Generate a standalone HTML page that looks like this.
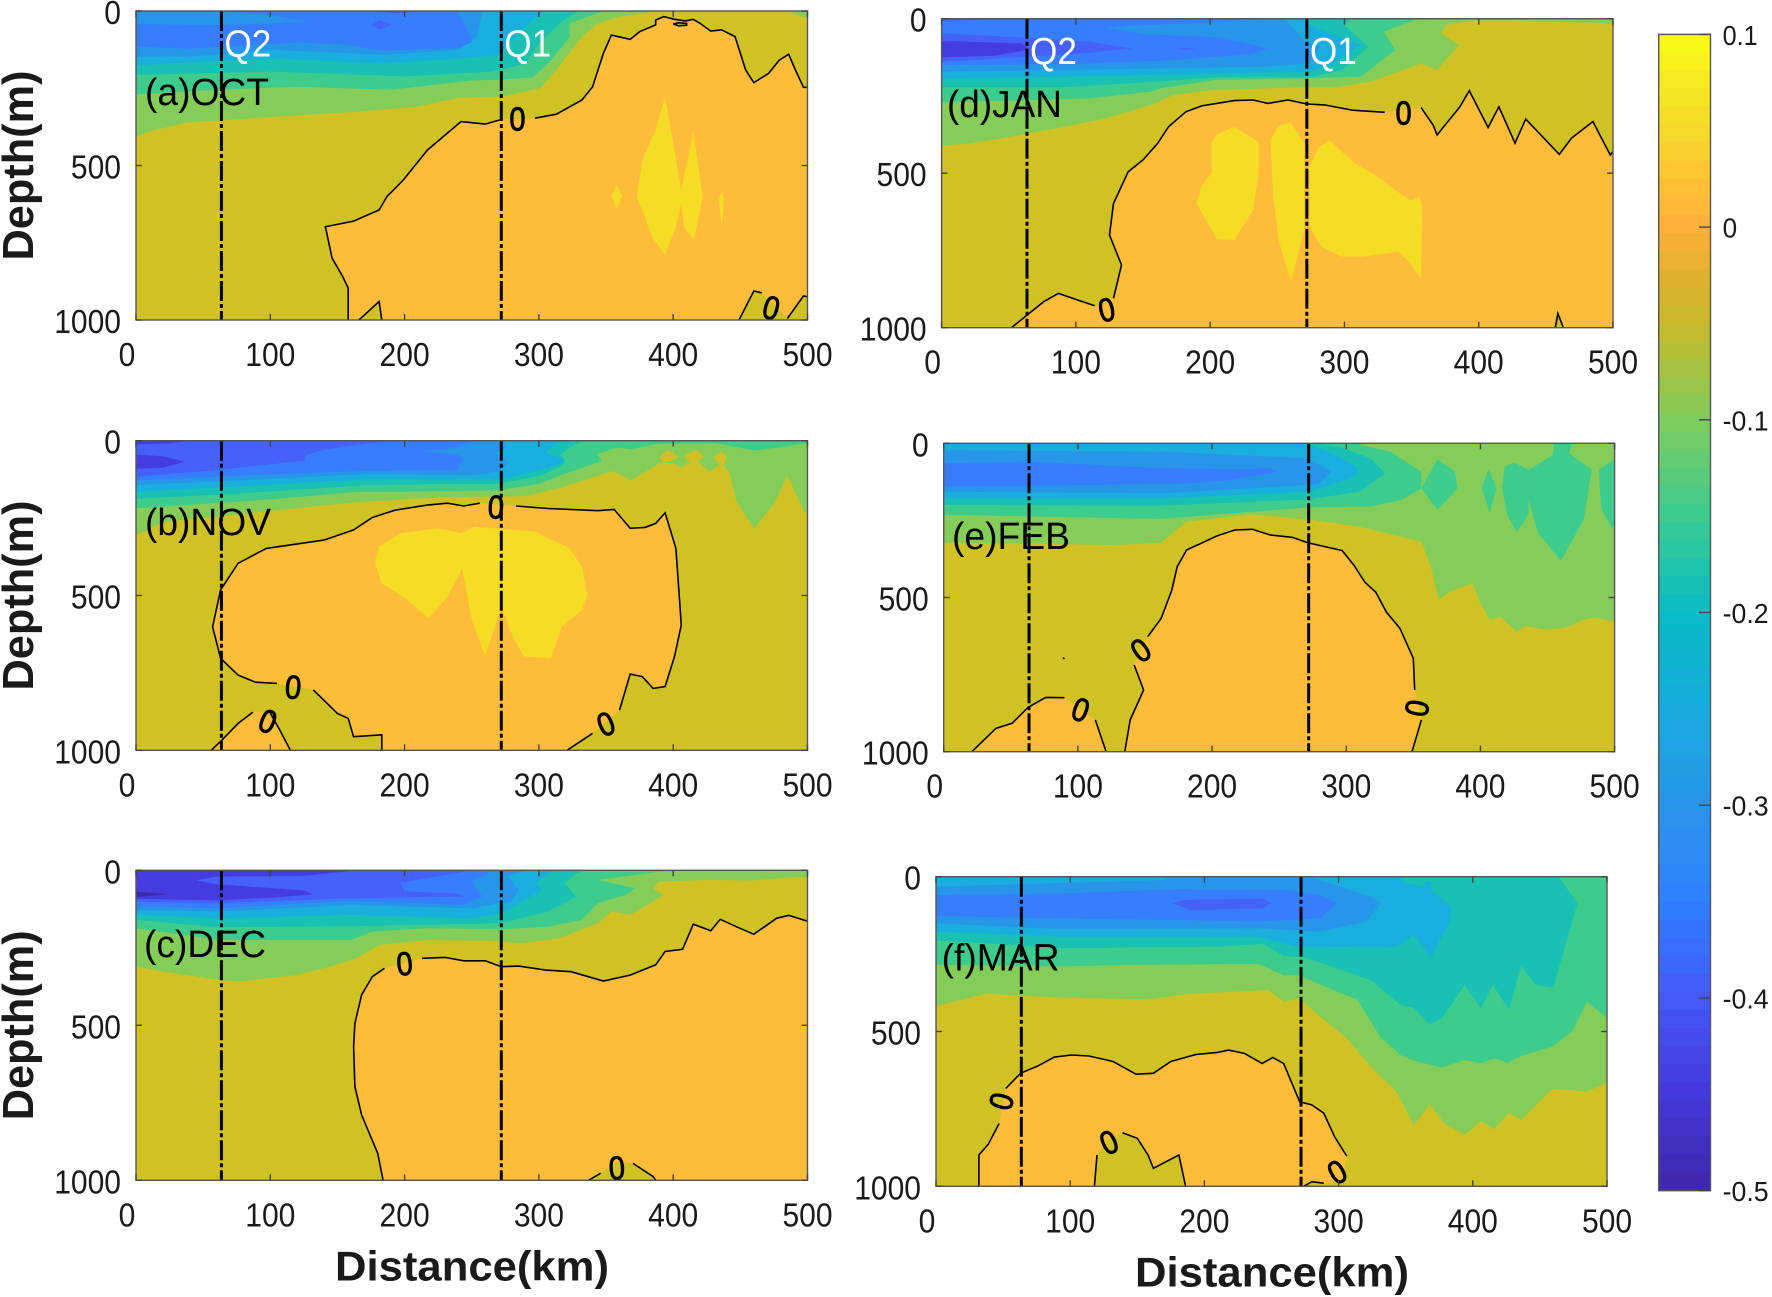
<!DOCTYPE html>
<html>
<head>
<meta charset="utf-8">
<title>Depth-distance sections</title>
<style>
html,body{margin:0;padding:0;background:#fff;}
svg{display:block;}
text{font-family:"Liberation Sans",sans-serif;fill:#1a1a1a;}
</style>
</head>
<body>
<svg id="chart" xmlns="http://www.w3.org/2000/svg" width="1772" height="1297" viewBox="0 0 1772 1297"></svg>
<script>
// Axis values
const xTicks = [0,100,200,300,400,500];
const yTicks = [0,500,1000];
const cbarTicks = [0.1,0,-0.1,-0.2,-0.3,-0.4,-0.5];
const stationKm = [63.6,272];
const bandColors = ['#3a2aa5','#453ce0','#4660fa','#377dff','#2896e8','#1aaede','#19c0b4','#3ecc8d','#84cd59','#d0c125','#fdbd3b','#f5dc25'];
const cbarStops = [[0.1,'#f9fb15'],[0.05,'#f5d92a'],[0.02,'#ffbe35'],[0,'#ffb03a'],[-0.03,'#dcb12a'],[-0.05,'#c9b92b'],[-0.1,'#7fcc5c'],[-0.15,'#3ccb8f'],[-0.2,'#08bcc6'],[-0.25,'#17abdd'],[-0.3,'#2a94e8'],[-0.35,'#2f80ff'],[-0.4,'#4458f8'],[-0.45,'#4438dc'],[-0.5,'#3e26a8']];

// OCT: [km, depth]; null = pen up for the contour line
const octWarm = [
 [0.025,[[158,1000],[158,897],[154,860],[146,800],[141,698],[162,680],[181,644],[187,600],[199,547],[217,450],[242,358],[260,366],[272,351],null,[297,347],[313,334],[332,288],[340,245],[348,137],[354,78],[368,92],[375,67],[387,45],[387,29],[393,18],[401,27],[409,32],[415,27],[420,40],[428,65],[436,61],[446,83],[454,191],[460,232],[471,202],[479,159],[486,140],[491,191],[497,247],[500,247],null,[500,1000]]],
 [-0.025,[[449,1000],[460,906],[466,912],null,[485,995],[497,922],[500,925],null,[500,1000]]],
 [-0.025,[[166,1000],[181,940],[183,1000]]],
 [-0.025,[[400,42],[404,38],[410,40],[410,46],[404,48],[400,42]]]
];
const octPeak = [
 [[394,277],[406,579],[415,390],[422,601],[417,709],[415,739],[408,698],[406,622],[402,698],[394,790],[385,736],[373,601],[377,482],[387,385]],
 [[358,563],[362,600],[358,642],[354,600]],
 [[436,585],[438,610],[436,698],[434,610]]
];
const octCold = [
 [-0.075,[[0,409],[9,390],[38,361],[103,342],[164,326],[209,310],[240,281],[272,277],[301,250],[315,180],[332,83],[344,40],[360,18],[389,0],[0,0]]],
 [-0.075,[[485,0],[500,0],[500,25]]],
 [-0.125,[[0,270],[60,255],[120,245],[190,255],[250,225],[272,222],[295,215],[307,170],[323,85],[323,40],[345,5],[350,0],[0,0]]],
 [-0.175,[[0,207],[100,196],[200,212],[265,196],[272,190],[290,170],[300,105],[318,30],[330,0],[0,0]]],
 [-0.225,[[0,175],[100,153],[180,170],[230,158],[270,142],[280,94],[295,30],[305,0],[0,0]]],
 [-0.275,[[0,148],[40,148],[100,126],[185,142],[240,126],[254,83],[258,0],[0,0]]],
 [-0.325,[[0,115],[40,122],[80,112],[120,102],[155,108],[185,128],[240,120],[250,100],[245,40],[240,10],[240,0],[65,0],[100,14],[127,35],[60,46],[0,42]]],
 [-0.375,[[182,30],[190,45],[182,60],[175,45]]],
 [-0.375,[[177,0],[215,0],[195,8]]]
];
const octLabels = [[284,350,0],[473,962,15]];

// NOV
const novWarm = [
 [0.025,[[56,1000],[64,967],[76,913],[87,877],null,[100,880],[107,934],[115,1000]]],
 [0.025,[[183,1000],[183,950],[162,956],[158,897],[150,881],[132,805],null,[105,784],[89,780],[76,757],[63,703],[57,601],[63,482],[76,396],[97,348],[140,321],[162,288],[176,248],[193,224],[217,208],[232,202],[244,211],[256,202],null,[283,211],[307,219],[344,226],[356,222],[368,283],[379,280],[387,267],[394,233],[402,348],[406,595],[401,697],[394,794],[385,800],[377,762],[368,754],[360,870],null,[340,945],[321,1000]]]
];
const novPeak = [
 [[197,299],[225,283],[242,299],[252,278],[266,283],[297,294],[323,348],[332,407],[336,498],[332,547],[317,601],[309,703],[289,697],[281,638],[272,536],[260,697],[250,579],[243,412],[232,504],[218,574],[199,504],[183,461],[178,396],[181,342]]
];
const novCold = [
 [-0.075,[[0,305],[21,262],[82,235],[160,200],[225,183],[275,180],[290,179],[316,152],[355,98],[369,128],[390,71],[400,72],[406,87],[414,66],[418,68],[427,100],[436,74],[442,103],[447,195],[460,284],[475,205],[485,111],[498,234],[500,225],[500,0],[0,0]]],
 [-0.025,[[390,52],[395,33],[399,35],[404,52],[398,68],[392,72]]],
 [-0.025,[[408,50],[415,32],[418,33],[423,50],[418,70],[412,70]]],
 [-0.025,[[430,52],[436,35],[440,52],[438,78],[434,78]]],
 [-0.125,[[0,218],[100,190],[165,165],[200,165],[270,160],[300,140],[316,112],[347,65],[343,44],[358,22],[368,28],[388,10],[432,8],[461,32],[498,9],[500,9],[500,0],[0,0]]],
 [-0.175,[[0,188],[80,170],[165,145],[225,140],[268,140],[300,115],[316,85],[320,65],[316,45],[322,25],[332,0],[0,0]]],
 [-0.225,[[0,165],[80,147],[170,125],[272,125],[295,100],[316,75],[319,65],[316,55],[305,40],[310,20],[318,0],[0,0]]],
 [-0.275,[[0,143],[80,128],[170,108],[250,112],[270,100],[278,70],[268,40],[275,25],[275,0],[0,0]]],
 [-0.325,[[0,129],[80,112],[170,98],[240,95],[243,60],[240,45],[213,35],[240,22],[245,10],[255,0],[0,0]]],
 [-0.375,[[0,116],[60,95],[125,65],[127,45],[140,30],[170,10],[190,0],[0,0]]],
 [-0.425,[[0,90],[20,88],[36,68],[20,50],[0,45]]],
 [-0.425,[[0,0],[40,0],[25,8],[0,12]]]
];
const novLabels = [[268,215,3],[117,797,5],[98,907,22],[350,916,-22]];

// DEC
const decWarm = [
 [0.025,[[184,1000],[180,913],[168,789],[163,698],[162,569],[163,494],[168,402],[176,343],[185,316],null,[213,284],[230,281],[244,292],[260,292],[272,311],[285,309],[305,322],[324,327],[348,357],[368,338],[387,305],[394,262],[407,255],[415,174],[428,195],[435,158],[448,184],[460,206],[477,155],[486,145],[499,163],[500,163],null,[500,1000]]],
 [-0.025,[[337,1000],[346,977],null,[358,940],null,[370,945],[385,988],[387,1000]]]
];
const decPeak = [];
const decCold = [
 [-0.075,[[0,311],[21,327],[62,354],[76,359],[119,338],[144,311],[164,284],[181,241],[217,225],[266,228],[287,235],[315,219],[344,171],[354,133],[368,144],[393,80],[385,58],[389,37],[426,31],[458,33],[487,23],[500,23],[500,0],[0,0]]],
 [-0.125,[[0,187],[62,225],[128,225],[160,225],[176,198],[217,187],[272,190],[307,182],[332,160],[344,106],[364,80],[372,58],[344,31],[380,10],[400,0],[0,0]]],
 [-0.175,[[0,160],[62,184],[164,180],[272,171],[307,133],[328,85],[319,42],[328,10],[334,0],[0,0]]],
 [-0.225,[[0,144],[62,155],[160,144],[250,155],[272,139],[303,63],[297,42],[311,0],[0,0]]],
 [-0.275,[[0,128],[62,133],[160,112],[250,123],[279,101],[285,63],[277,20],[291,0],[0,0]]],
 [-0.325,[[0,117],[62,123],[160,98],[242,112],[258,85],[250,37],[266,0],[0,0]]],
 [-0.375,[[0,101],[62,106],[160,90],[244,85],[240,75],[200,68],[197,40],[225,20],[250,0],[0,0]]],
 [-0.425,[[0,92],[60,97],[100,88],[132,78],[125,65],[60,45],[45,32],[60,20],[125,18],[165,0],[0,0]]],
 [-0.475,[[0,87],[23,77],[0,69]]]
];
const decLabels = [[200,302,-5],[358,961,-3]];

// JAN
const janWarm = [
 [0.025,[[52,1000],[76,916],[87,889],[101,910],[114,929],null,[128,905],[134,797],[125,700],[128,598],[139,495],[150,457],[161,403],[169,350],[182,301],[194,282],[218,265],[232,263],[243,274],[258,263],[272,276],[285,279],[306,296],[330,303],null,[357,287],[366,344],[369,376],[386,285],[393,233],[407,352],[415,285],[427,403],[435,325],[460,439],[469,387],[485,333],[498,441],[500,430],null,[500,1000]]],
 [-0.025,[[457,1000],[459,954],[463,1000]]]
];
const janPeak = [
 [[218,350],[236,398],[236,500],[232,619],[218,716],[205,714],[190,598],[194,538],[201,500],[201,398],[207,371]],
 [[260,337],[270,403],[270,684],[260,851],[251,716],[247,576],[245,393],[251,347]],
 [[289,393],[306,463],[323,506],[338,555],[349,589],[356,574],[358,608],[357,840],[348,786],[340,754],[314,770],[298,770],[283,738],[274,673],[274,479],[281,414]]
];
const janCold = [
 [-0.075,[[0,411],[21,403],[49,384],[91,350],[122,323],[156,279],[173,247],[201,231],[266,222],[293,222],[319,204],[357,145],[369,166],[385,85],[372,47],[376,20],[395,6],[426,6],[500,15],[500,0],[0,0]]],
 [-0.125,[[0,270],[53,265],[110,258],[156,236],[163,225],[205,198],[274,193],[312,188],[338,101],[329,42],[353,4],[365,0],[0,0]]],
 [-0.175,[[0,222],[91,222],[160,204],[205,190],[274,190],[298,166],[318,91],[300,20],[305,0],[0,0]]],
 [-0.225,[[0,193],[91,188],[160,182],[274,172],[290,150],[312,85],[285,40],[274,20],[272,0],[0,0]]],
 [-0.275,[[0,172],[91,166],[167,161],[243,155],[274,145],[282,90],[270,75],[262,30],[255,0],[0,0]]],
 [-0.325,[[0,150],[91,148],[170,135],[230,115],[243,95],[225,78],[205,60],[150,50],[122,27],[190,14],[240,0],[0,0]]],
 [-0.375,[[0,139],[65,123],[110,110],[142,96],[110,75],[65,62],[0,47]]],
 [-0.375,[[0,0],[45,0],[20,6],[0,8]]],
 [-0.375,[[174,98],[182,95],[190,98],[182,101]]],
 [-0.425,[[0,125],[40,120],[65,100],[60,80],[0,72]]]
];
const janLabels = [[344,306,0],[123,943,-12]];

// FEB
const febWarm = [
 [0.025,[[21,1000],[39,924],[51,908],[63,856],[76,824],[90,825],null,[113,897],[121,1000]]],
 [0.025,[[135,1000],[139,897],[149,800],[142,719],null,[152,627],[162,568],[170,476],[174,400],[181,346],[204,300],[217,281],[230,279],[243,297],[260,305],[271,322],[297,348],[306,397],[314,451],[322,483],[330,548],[340,600],[350,697],[351,800],null,[356,897],[349,1000]]],
 [0.025,[[89,695],[90,699]]]
];
const febPeak = [];
const febCold = [
 [-0.075,[[0,322],[71,326],[128,330],[162,322],[181,254],[230,230],[276,249],[310,270],[356,319],[363,400],[369,508],[377,481],[394,454],[400,519],[407,573],[415,562],[427,611],[434,592],[449,605],[464,597],[476,573],[485,565],[500,578],[500,0],[0,0]]],
 [-0.125,[[0,232],[162,245],[272,208],[318,205],[341,184],[356,146],[356,92],[333,27],[306,0],[0,0]]],
 [-0.125,[[368,52],[381,92],[383,146],[368,216],[356,146]]],
 [-0.125,[[406,84],[412,146],[407,225],[401,146]]],
 [-0.125,[[425,62],[436,86],[436,227],[427,290],[420,232],[416,146],[418,76]]],
 [-0.125,[[455,0],[468,0],[466,32],[483,86],[477,249],[460,381],[443,292],[436,184],[436,86],[454,38]]],
 [-0.125,[[500,52],[488,86],[490,211],[498,276],[500,260]]],
 [-0.175,[[0,200],[158,203],[272,182],[310,157],[329,97],[318,49],[295,11],[278,0],[0,0]]],
 [-0.225,[[0,178],[166,178],[272,157],[303,114],[310,86],[295,43],[270,0],[0,0]]],
 [-0.275,[[0,22],[63,24],[166,27],[272,49],[289,92],[280,130],[272,135],[166,162],[0,157]]],
 [-0.325,[[0,65],[63,59],[162,81],[230,84],[242,78],[249,92],[215,119],[185,130],[63,138],[0,141]]]
];
const febLabels = [[147,672,-35],[102,865,20],[353,859,-80]];

// MAR
const marWarm = [
 [0.025,[[32,1000],[32,899],[39,864],[47,797],null,[52,684],[63,635],[76,611],[88,583],[101,576],[114,579],[132,597],[149,638],[162,635],[175,597],[194,574],[209,568],[218,560],[230,571],[243,603],[251,584],[259,603],[271,727],[280,737],[289,764],[297,840],[306,902],null,[303,980],null,[289,990],[280,985],[274,1000]]],
 [-0.025,[[118,1000],[120,899],null,[128,850],null,[139,827],[150,845],[158,899],[162,942],[181,899],[186,1000]]]
];
const marPeak = [];
const marCold = [
 [-0.075,[[0,418],[38,377],[54,382],[95,391],[160,396],[187,379],[248,366],[259,404],[271,393],[286,452],[305,517],[324,614],[343,694],[356,802],[368,735],[379,797],[394,834],[406,789],[416,816],[427,762],[436,786],[459,686],[472,689],[485,694],[500,665],[500,0],[0,0]]],
 [-0.125,[[0,285],[95,289],[145,285],[240,282],[259,318],[270,318],[287,350],[314,398],[331,517],[346,576],[358,597],[377,616],[394,592],[406,603],[416,587],[426,601],[436,579],[459,549],[474,501],[485,404],[500,457],[500,0],[0,0]]],
 [-0.175,[[0,205],[95,231],[210,226],[244,217],[259,256],[274,260],[324,334],[346,414],[356,423],[368,477],[377,457],[394,350],[406,425],[415,350],[427,430],[436,288],[447,350],[460,358],[478,86],[464,0],[0,0]]],
 [-0.225,[[0,178],[95,194],[240,194],[270,226],[343,228],[356,188],[369,260],[384,135],[384,97],[369,43],[369,16],[364,16],[364,32],[350,22],[346,0],[0,0]]],
 [-0.275,[[0,32],[168,11],[179,0],[278,0],[324,65],[332,86],[320,145],[286,178],[240,167],[95,170],[0,151]]],
 [-0.325,[[0,59],[95,54],[179,40],[259,43],[286,59],[299,86],[286,135],[240,145],[179,140],[95,135],[0,127]]],
 [-0.375,[[176,86],[187,75],[244,70],[249,86],[244,102],[190,108]]]
];
const marLabels = [[49,726,-75],[129,859,-25],[299,955,-30]];

const svg = document.getElementById('chart');
const NS = 'http://www.w3.org/2000/svg';

function add(parent, tag, name, attrs) {
  const el = document.createElementNS(NS, tag);
  
  
  for (const k in attrs) el.setAttribute(k, attrs[k]);
  parent.appendChild(el);
  return el;
}
function label(parent, name, str, attrs) {
  const el = add(parent, 'text', name, attrs);
  el.textContent = str;
  return el;
}
function bandColor(v) {
  return bandColors[Math.floor((v + 0.5) / 0.05)];
}

function drawPanel(id, box, warm, peak, cold, contourLabels, title, titleX, titleY, titleLen, showDepth, showDistance, qLabels) {
  const left = box[0], right = box[1], top = box[2], bottom = box[3];
  const xScale = km => left + (km / 500) * (right - left);
  const yScale = d => top + (d / 1000) * (bottom - top);
  const g = add(svg, 'g', id + '-panel', {});
  const clipId = 'clip-' + id;
  const defs = add(g, 'defs', id + '-clip-defs', {});
  const clip = add(defs, 'clipPath', id + '-clip', {id: clipId});
  add(clip, 'rect', id + '-clip-rect', {x: left, y: top, width: right - left, height: bottom - top});
  const plot = add(g, 'g', id + '-plot-area', {'clip-path': 'url(#' + clipId + ')'});
  add(plot, 'rect', id + '-background-band', {x: left, y: top, width: right - left, height: bottom - top, fill: bandColor(-0.025)});

  const polyPts = pts => pts.filter(p => p).map(p => xScale(p[0]).toFixed(1) + ',' + yScale(p[1]).toFixed(1)).join(' ');
  warm.forEach(item => {
    add(plot, 'polygon', id + '-warm-region', {points: polyPts(item[1]), fill: bandColor(item[0])});
  });
  peak.forEach(pts => {
    add(plot, 'polygon', id + '-warm-peak', {points: polyPts(pts), fill: bandColor(0.075)});
  });
  cold.forEach(item => {
    add(plot, 'polygon', id + '-cold-band', {points: polyPts(item[1]), fill: bandColor(item[0])});
  });
  warm.forEach(item => {
    let run = [];
    const flush = () => {
      if (run.length > 1) {
        add(plot, 'polyline', id + '-zero-contour', {points: polyPts(run), fill: 'none', stroke: '#000', 'stroke-width': 1.6});
      }
      run = [];
    };
    item[1].forEach(p => { if (p) run.push(p); else flush(); });
    flush();
  });
  stationKm.forEach((km, i) => {
    add(plot, 'line', id + '-station-line-q' + (2 - i), {x1: xScale(km), x2: xScale(km), y1: top, y2: bottom, stroke: '#000', 'stroke-width': 3, 'stroke-dasharray': '20 3 4 3'});
  });
  contourLabels.forEach(c => {
    label(g, id + '-contour-label', '0', {x: 0, y: 0, 'font-size': 33, 'text-anchor': 'middle', 'dominant-baseline': 'central', stroke: '#000', 'stroke-width': 0.9, style: 'fill:#000', transform: 'translate(' + xScale(c[0]) + ',' + yScale(c[1]) + ') rotate(' + c[2] + ') scale(0.88,1)'});
  });
  // frame and ticks
  add(g, 'rect', id + '-axes-frame', {x: left, y: top, width: right - left, height: bottom - top, fill: 'none', stroke: '#555', 'stroke-width': 1.4});
  xTicks.forEach(t => {
    const x = xScale(t);
    add(g, 'line', id + '-x-tick', {x1: x, x2: x, y1: bottom, y2: bottom - 6, stroke: '#444', 'stroke-width': 1.4});
    add(g, 'line', id + '-x-tick-top', {x1: x, x2: x, y1: top, y2: top + 6, stroke: '#444', 'stroke-width': 1.4});
    const s = String(t);
    label(g, id + '-x-tick-label', s, {x: t === 0 ? x - 9 : x, y: bottom + 46, 'font-size': 33, 'text-anchor': 'middle', textLength: 16.7 * s.length, lengthAdjust: 'spacingAndGlyphs'});
  });
  yTicks.forEach(t => {
    const y = yScale(t);
    add(g, 'line', id + '-y-tick', {x1: left, x2: left + 6, y1: y, y2: y, stroke: '#444', 'stroke-width': 1.4});
    add(g, 'line', id + '-y-tick-right', {x1: right, x2: right - 6, y1: y, y2: y, stroke: '#444', 'stroke-width': 1.4});
    const s = String(t);
    label(g, id + '-y-tick-label', s, {x: left - 15, y: y + 13, 'font-size': 33, 'text-anchor': 'end', textLength: 16.7 * s.length, lengthAdjust: 'spacingAndGlyphs'});
  });
  label(g, id + '-panel-title', title, {x: titleX, y: titleY, 'font-size': 38, textLength: titleLen, lengthAdjust: 'spacingAndGlyphs', style: 'fill:#000'});
  if (qLabels) {
    stationKm.forEach((km, i) => {
      label(g, id + '-station-label-q' + (2 - i), 'Q' + (2 - i), {x: xScale(km) + 3, y: qLabels, 'font-size': 38, textLength: 47, lengthAdjust: 'spacingAndGlyphs', style: 'fill:#fff'});
    });
  }
  if (showDepth) {
    label(g, id + '-y-axis-title', 'Depth(m)', {x: 0, y: 0, 'font-size': 44, 'font-weight': 'bold', 'text-anchor': 'middle', textLength: 190, lengthAdjust: 'spacingAndGlyphs', transform: 'translate(33,' + (top + bottom) / 2 + ') rotate(-90)'});
  }
  if (showDistance) {
    label(g, id + '-x-axis-title', 'Distance(km)', {x: showDistance, y: bottom + 100, 'font-size': 42, 'font-weight': 'bold', 'text-anchor': 'middle', textLength: 274, lengthAdjust: 'spacingAndGlyphs'});
  }
}

drawPanel('oct', [136,807.5,11,320], octWarm, octPeak, octCold, octLabels, '(a)OCT', 145, 105, 124, true, 0, 56.7);
drawPanel('nov', [136,807.5,440.7,750.3], novWarm, novPeak, novCold, novLabels, '(b)NOV', 145, 535, 126, true, 0, 0);
drawPanel('dec', [136,807.5,870.3,1180.3], decWarm, decPeak, decCold, decLabels, '(c)DEC', 144, 957, 122, true, 472, 0);
drawPanel('jan', [941.6,1613,18.7,327.7], janWarm, janPeak, janCold, janLabels, '(d)JAN', 947, 117, 115, false, 0, 64);
drawPanel('feb', [943.7,1614.6,443.3,751.7], febWarm, febPeak, febCold, febLabels, '(e)FEB', 952, 549, 118, false, 0, 0);
drawPanel('mar', [936,1607,876.7,1186.3], marWarm, marPeak, marCold, marLabels, '(f)MAR', 941.6, 970.7, 118, false, 1272, 0);

// Colorbar
(function () {
  const left = 1658.7, right = 1710.5, top = 34.4, bottom = 1190.6;
  const yScale = v => top + ((0.1 - v) / 0.6) * (bottom - top);
  const g = add(svg, 'g', 'colorbar', {});
  function stopColor(v) {
    for (let i = 0; i < cbarStops.length - 1; i++) {
      const a = cbarStops[i], b = cbarStops[i + 1];
      if (v <= a[0] && v >= b[0]) {
        const t = (a[0] - v) / (a[0] - b[0]);
        const ca = [1, 3, 5].map(k => parseInt(a[1].substr(k, 2), 16));
        const cb = [1, 3, 5].map(k => parseInt(b[1].substr(k, 2), 16));
        return 'rgb(' + ca.map((c, j) => Math.round(c + (cb[j] - c) * t)).join(',') + ')';
      }
    }
    return cbarStops[cbarStops.length - 1][1];
  }
  const steps = 64;
  for (let i = 0; i < steps; i++) {
    const hi = 0.1 - (i * 0.6) / steps;
    const lo = 0.1 - ((i + 1) * 0.6) / steps;
    add(g, 'rect', 'colorbar-step', {x: left, y: yScale(hi), width: right - left, height: yScale(lo) - yScale(hi) + 0.6, fill: stopColor((hi + lo) / 2)});
  }
  add(g, 'rect', 'colorbar-frame', {x: left, y: top, width: right - left, height: bottom - top, fill: 'none', stroke: '#555', 'stroke-width': 1.4});
  cbarTicks.forEach(t => {
    const y = yScale(t);
    add(g, 'line', 'colorbar-tick', {x1: right - 11.5, x2: right, y1: y, y2: y, stroke: '#444', 'stroke-width': 1.4});
    const str = String(t);
    const len = str.length === 1 ? 14.5 : (str.length === 3 ? 35 : 46);
    label(g, 'colorbar-tick-label', str, {x: 1722.6, y: y + 10.5, 'font-size': 28, textLength: len, lengthAdjust: 'spacingAndGlyphs'});
  });
})();
</script>
</body>
</html>
